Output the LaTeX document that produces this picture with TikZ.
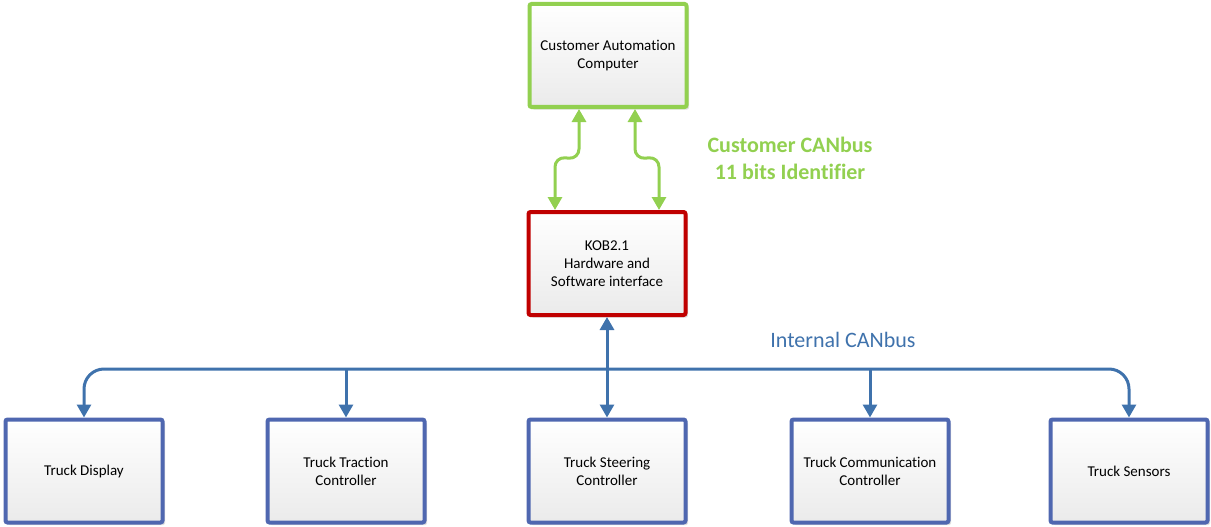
\documentclass[tikz,border=0pt]{standalone}
\usepackage{fontspec}
\setmainfont{Carlito}[Ligatures={NoCommon}]
\usetikzlibrary{arrows.meta,calc,shadows}
\definecolor{cgreen}{HTML}{92D050}
\definecolor{cred}{HTML}{C00000}
\definecolor{cblue}{HTML}{4F67B0}
\definecolor{lblue}{HTML}{3F72AC}
\tikzset{
  box/.style={draw, line width=4pt, rounded corners=2pt, minimum width=157pt, minimum height=103pt, inner sep=0pt,
    top color=white, bottom color=black!8, align=center,
    font=\fontsize{15}{18}\selectfont,
    drop shadow={shadow xshift=2.5pt, shadow yshift=-2.5pt, opacity=0.25, fill=gray}},
  gbox/.style={box, draw=cgreen},
  rbox/.style={box, draw=cred},
  bbox/.style={box, draw=cblue},
  tip/.tip={Triangle[length=13pt,width=14pt]},
  gconn/.style={draw=cgreen, line width=3pt, tip-tip, rounded corners=10pt},
  bconn/.style={draw=lblue, line width=3pt},
}
\begin{document}
\begin{tikzpicture}[x=1pt,y=-1pt]
\useasboundingbox (0,0) rectangle (1211,527);
\node[gbox] (cac) at (608,55.5) {Customer Automation\\Computer};
\node[rbox] (kob) at (607,263.5) {KOB2.1\\Hardware and\\Software interface};
\node[bbox] (disp) at (84,471) {Truck Display};
\node[bbox] (trac) at (346,471) {Truck Traction\\Controller};
\node[bbox] (steer) at (607,471) {Truck Steering\\Controller};
\node[bbox] (comm) at (870,471) {Truck Communication\\Controller};
\node[bbox] (sens) at (1129,471) {Truck Sensors};

\node[text=cgreen, font=\bfseries\fontsize{22}{27}\selectfont, align=center] (cantxt) at (790,158.5) {Customer CANbus\\11 bits Identifier};
\node[text=lblue, font=\fontsize{22}{27}\selectfont] (inttxt) at (843,340) {Internal CANbus};

% green connectors
\draw[gconn] ($(cac.south)+(-29,0)$) -- ($(cac.south)+(-29,50)$) -- ($(kob.north)+(-52,-53)$) -- ($(kob.north)+(-52,0)$);
\draw[gconn] ($(cac.south)+(27,0)$) -- ($(cac.south)+(27,50)$) -- ($(kob.north)+(52,-53)$) -- ($(kob.north)+(52,0)$);

% internal bus
\coordinate (bus) at (607,369);
\draw[bconn, tip-tip, rounded corners=20pt] (disp.north) -- (disp.north |- bus) -- (sens.north |- bus) -- (sens.north);
\draw[bconn, -tip] (trac.north |- bus) -- (trac.north);
\draw[bconn, -tip] (comm.north |- bus) -- (comm.north);
\draw[bconn, tip-tip] (kob.south) -- (steer.north);
\end{tikzpicture}
\end{document}
